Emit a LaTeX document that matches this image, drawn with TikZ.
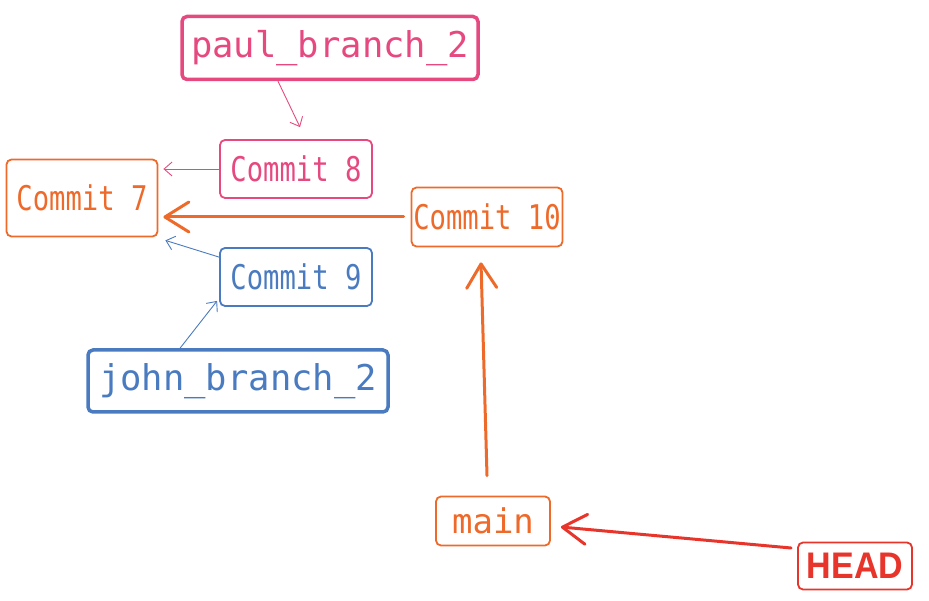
\documentclass[tikz,border=0pt]{standalone}
\usepackage{fontspec}
\usetikzlibrary{arrows.meta}
\newfontfamily\branchfont{DejaVu Sans Mono}
\newfontfamily\commitfont[FakeStretch=0.8]{DejaVu Sans Mono}
\newfontfamily\headfont[FakeStretch=0.92]{Liberation Sans}
\definecolor{gitpink}{HTML}{E64980}
\definecolor{gitorange}{HTML}{EE6A2A}
\definecolor{gitblue}{HTML}{4A7BC0}
\definecolor{gitred}{HTML}{E8352B}
\tikzset{
  gitnode/.style = {align=center, inner sep=0pt, text centered,
    rounded corners=5pt, fill=white},
  commit_n/.style = {gitnode, draw=#1, text=#1, line width=1.8pt,
    font=\commitfont\fontsize{34}{38}\selectfont},
  branch_n/.style = {gitnode, draw=#1, text=#1, line width=3.5pt,
    font=\branchfont\fontsize{35.5}{40}\selectfont},
  thin_arr/.style = {draw=#1, line width=0.9pt,
    -{Straight Barb[length=8pt,width=14pt]}},
  thick_arr/.style = {draw=#1, line width=3pt, line cap=round,
    -{Straight Barb[length=24pt,width=30pt,round]}}}

\begin{document}
\begin{tikzpicture}[x=1pt,y=-1pt]
 \useasboundingbox (0,0) rectangle (929,601);

\node [branch_n=gitpink, minimum width=296pt, minimum height=63pt] (paul) at (330,48) {paul\_branch\_2};
\node [commit_n=gitpink, minimum width=152pt, minimum height=58pt] (c8) at (296,169) {Commit 8};
\node [commit_n=gitorange, minimum width=151pt, minimum height=77pt] (c7) at (82,198) {Commit 7};
\node [commit_n=gitorange, minimum width=151pt, minimum height=59pt] (c10) at (487,217) {Commit 10};
\node [commit_n=gitblue, minimum width=152pt, minimum height=58pt] (c9) at (296,277) {Commit 9};
\node [branch_n=gitblue, minimum width=300pt, minimum height=62pt] (john) at (238,381) {john\_branch\_2};
\node [commit_n=gitorange, minimum width=114pt, minimum height=49pt,
  font=\branchfont\fontsize{34}{38}\selectfont] (main) at (493,521) {main};
\node [commit_n=gitred, minimum width=114pt, minimum height=47pt,
  font=\headfont\bfseries\fontsize{37}{40}\selectfont] (head) at (855,566) {HEAD};

% branches and commits
\draw [thin_arr=gitpink] ([xshift=-52pt]paul.south) -- ([xshift=4pt,yshift=12pt]c8.north);
\draw [thin_arr=gitpink] (c8.west) -- ([xshift=5pt]c8.west -| c7.east);
\draw [thick_arr=gitorange] ([xshift=-7pt]c10.west) -- ([xshift=5pt]c10.west -| c7.east);
\draw [thin_arr=gitblue] ([yshift=-10pt]c9.north west) -- ([xshift=7pt,yshift=-3pt]c7.south east);
\draw [thin_arr=gitblue] ([xshift=-58pt]john.north) -- ([xshift=-2pt,yshift=6pt]c9.south west);
\draw [thick_arr=gitorange] ([xshift=-6pt,yshift=20pt]main.north) -- ([xshift=-6pt,yshift=-15pt]c10.south);
\draw [thick_arr=gitred] ([xshift=-6pt,yshift=18pt]head.west) -- ([xshift=10pt,yshift=-6pt]main.east);
\end{tikzpicture}
\end{document}
